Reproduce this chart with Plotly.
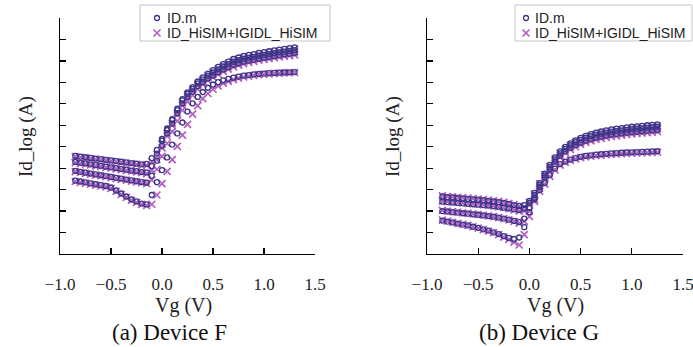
import plotly.graph_objects as go

# ---------------- data (log10 of Id, A) ----------------
VG_F = [-0.85, -0.80, -0.75, -0.70, -0.65, -0.60, -0.55, -0.50, -0.45, -0.40, -0.35,
        -0.30, -0.25, -0.20, -0.15, -0.10, -0.05, 0.00, 0.05, 0.10, 0.15, 0.20, 0.25,
        0.30, 0.35, 0.40, 0.45, 0.50, 0.55, 0.60, 0.65, 0.70, 0.75, 0.80, 0.85, 0.90,
        0.95, 1.00, 1.05, 1.10, 1.15, 1.20, 1.25, 1.30]

F_MEAS_1 = [-10.58, -10.62, -10.66, -10.71, -10.75, -10.79, -10.83, -10.90, -11.04, -11.18, -11.32,
            -11.46, -11.55, -11.65, -11.69, -11.25, -10.65, -10.09, -9.50, -8.90, -8.38, -7.87, -7.36,
            -6.98, -6.68, -6.45, -6.25, -6.10, -5.99, -5.91, -5.84, -5.78, -5.73, -5.69, -5.66, -5.63,
            -5.61, -5.59, -5.57, -5.56, -5.55, -5.54, -5.53, -5.52]
F_MEAS_2 = [-10.13, -10.17, -10.21, -10.25, -10.29, -10.33, -10.37, -10.41, -10.45, -10.49, -10.53,
            -10.57, -10.61, -10.65, -10.68, -10.35, -9.65, -8.95, -8.38, -7.92, -7.44, -6.98, -6.67,
            -6.43, -6.18, -5.99, -5.82, -5.68, -5.53, -5.40, -5.29, -5.18, -5.11, -5.04, -4.99, -4.95,
            -4.90, -4.86, -4.82, -4.78, -4.74, -4.70, -4.67, -4.63]
F_MEAS_3 = [-9.71, -9.75, -9.78, -9.82, -9.86, -9.89, -9.93, -9.96, -10.00, -10.04, -10.07,
            -10.11, -10.14, -10.18, -10.20, -9.90, -9.32, -8.72, -8.22, -7.76, -7.29, -6.84, -6.54,
            -6.30, -6.05, -5.86, -5.69, -5.54, -5.39, -5.26, -5.15, -5.04, -4.97, -4.90, -4.85, -4.81,
            -4.76, -4.72, -4.68, -4.64, -4.60, -4.57, -4.53, -4.50]
F_MEAS_4 = [-9.43, -9.46, -9.49, -9.52, -9.55, -9.58, -9.61, -9.64, -9.67, -9.70, -9.73,
            -9.76, -9.79, -9.82, -9.80, -9.53, -9.15, -8.64, -8.15, -7.71, -7.22, -6.78, -6.47,
            -6.22, -5.96, -5.77, -5.59, -5.43, -5.28, -5.15, -5.03, -4.91, -4.84, -4.77, -4.72, -4.68,
            -4.63, -4.59, -4.55, -4.51, -4.47, -4.44, -4.40, -4.37]

F_SIM_1 = [-10.62, -10.66, -10.70, -10.75, -10.79, -10.83, -10.87, -10.94, -11.08, -11.22, -11.36,
           -11.50, -11.59, -11.69, -11.74, -11.68, -11.25, -10.72, -10.15, -9.60, -8.98, -8.46, -7.96,
           -7.48, -7.08, -6.76, -6.52, -6.32, -6.16, -6.04, -5.95, -5.87, -5.80, -5.75, -5.71, -5.67,
           -5.64, -5.62, -5.60, -5.58, -5.57, -5.56, -5.55, -5.54]
F_SIM_2 = [-10.16, -10.20, -10.24, -10.28, -10.32, -10.36, -10.40, -10.44, -10.48, -10.52, -10.56,
           -10.60, -10.64, -10.68, -10.72, -10.55, -10.05, -9.45, -8.85, -8.30, -7.80, -7.30, -6.90,
           -6.60, -6.32, -6.09, -5.91, -5.76, -5.62, -5.49, -5.38, -5.28, -5.20, -5.13, -5.07, -5.02,
           -4.97, -4.93, -4.89, -4.85, -4.81, -4.78, -4.75, -4.72]
F_SIM_3 = [-9.74, -9.78, -9.81, -9.85, -9.89, -9.92, -9.96, -9.99, -10.03, -10.07, -10.10,
           -10.14, -10.17, -10.21, -10.25, -10.10, -9.60, -9.05, -8.50, -8.00, -7.52, -7.07, -6.70,
           -6.43, -6.17, -5.95, -5.77, -5.62, -5.48, -5.35, -5.24, -5.13, -5.06, -4.99, -4.93, -4.88,
           -4.84, -4.80, -4.76, -4.72, -4.68, -4.65, -4.61, -4.58]
F_SIM_4 = [-9.46, -9.49, -9.52, -9.55, -9.58, -9.61, -9.64, -9.67, -9.70, -9.73, -9.76,
           -9.79, -9.82, -9.85, -9.86, -9.70, -9.35, -8.88, -8.38, -7.90, -7.42, -6.95, -6.58,
           -6.33, -6.09, -5.87, -5.68, -5.52, -5.37, -5.24, -5.12, -5.01, -4.93, -4.86, -4.81, -4.76,
           -4.71, -4.67, -4.63, -4.59, -4.55, -4.52, -4.48, -4.45]

VG_G = [-0.85, -0.80, -0.75, -0.70, -0.65, -0.60, -0.55, -0.50, -0.45, -0.40, -0.35,
        -0.30, -0.25, -0.20, -0.15, -0.10, -0.05, 0.00, 0.05, 0.10, 0.15, 0.20, 0.25,
        0.30, 0.35, 0.40, 0.45, 0.50, 0.55, 0.60, 0.65, 0.70, 0.75, 0.80, 0.85, 0.90,
        0.95, 1.00, 1.05, 1.10, 1.15, 1.20, 1.25]

G_MEAS_1 = [-12.44, -12.49, -12.53, -12.58, -12.63, -12.67, -12.73, -12.78, -12.85, -12.91, -12.99,
            -13.07, -13.17, -13.25, -13.30, -13.23, -12.75, -12.05, -11.45, -11.02, -10.69, -10.32, -10.02,
            -9.81, -9.69, -9.60, -9.53, -9.47, -9.43, -9.40, -9.37, -9.35, -9.33, -9.31, -9.30, -9.28,
            -9.27, -9.26, -9.25, -9.24, -9.23, -9.22, -9.21]
G_MEAS_2 = [-12.00, -12.02, -12.05, -12.07, -12.10, -12.12, -12.15, -12.17, -12.20, -12.23, -12.26,
            -12.30, -12.35, -12.40, -12.46, -12.51, -12.35, -11.85, -11.38, -10.88, -10.44, -10.04, -9.69,
            -9.42, -9.21, -9.05, -8.92, -8.81, -8.72, -8.65, -8.58, -8.53, -8.48, -8.44, -8.41, -8.38,
            -8.35, -8.32, -8.30, -8.28, -8.26, -8.24, -8.22]
G_MEAS_3 = [-11.56, -11.58, -11.60, -11.62, -11.64, -11.66, -11.68, -11.70, -11.72, -11.74, -11.77,
            -11.80, -11.84, -11.88, -11.92, -11.95, -11.88, -11.62, -11.25, -10.78, -10.34, -9.94, -9.59,
            -9.31, -9.10, -8.93, -8.79, -8.68, -8.59, -8.51, -8.44, -8.39, -8.34, -8.30, -8.27, -8.24,
            -8.21, -8.18, -8.16, -8.14, -8.11, -8.09, -8.07]
G_MEAS_4 = [-11.32, -11.35, -11.36, -11.39, -11.41, -11.43, -11.45, -11.47, -11.49, -11.52, -11.55,
            -11.58, -11.62, -11.66, -11.72, -11.76, -11.72, -11.53, -11.15, -10.70, -10.25, -9.85, -9.50,
            -9.22, -9.01, -8.84, -8.70, -8.59, -8.49, -8.41, -8.34, -8.29, -8.24, -8.19, -8.16, -8.13,
            -8.10, -8.07, -8.05, -8.03, -8.00, -7.98, -7.96]

G_SIM_1 = [-12.42, -12.47, -12.52, -12.57, -12.62, -12.67, -12.73, -12.79, -12.86, -12.93, -13.01,
           -13.10, -13.21, -13.32, -13.45, -13.58, -13.10, -12.25, -11.55, -11.08, -10.74, -10.38, -10.08,
           -9.86, -9.73, -9.64, -9.57, -9.51, -9.47, -9.44, -9.41, -9.39, -9.37, -9.35, -9.33, -9.32,
           -9.31, -9.30, -9.29, -9.28, -9.27, -9.26, -9.25]
G_SIM_2 = [-11.97, -12.00, -12.03, -12.05, -12.08, -12.10, -12.13, -12.16, -12.19, -12.22, -12.26,
           -12.30, -12.35, -12.41, -12.48, -12.56, -12.48, -12.00, -11.45, -10.93, -10.49, -10.10, -9.77,
           -9.50, -9.29, -9.13, -9.00, -8.89, -8.80, -8.73, -8.66, -8.61, -8.56, -8.52, -8.49, -8.46,
           -8.43, -8.40, -8.38, -8.36, -8.34, -8.32, -8.30]
G_SIM_3 = [-11.54, -11.56, -11.58, -11.60, -11.62, -11.64, -11.66, -11.68, -11.70, -11.73, -11.76,
           -11.80, -11.84, -11.89, -11.95, -12.00, -11.98, -11.70, -11.28, -10.82, -10.40, -10.02, -9.68,
           -9.41, -9.20, -9.03, -8.89, -8.78, -8.69, -8.61, -8.54, -8.48, -8.43, -8.39, -8.36, -8.33,
           -8.30, -8.27, -8.25, -8.23, -8.20, -8.18, -8.16]
G_SIM_4 = [-11.29, -11.32, -11.34, -11.36, -11.38, -11.40, -11.42, -11.44, -11.47, -11.49, -11.52,
           -11.55, -11.59, -11.64, -11.70, -11.78, -11.80, -11.60, -11.20, -10.72, -10.30, -9.92, -9.58,
           -9.31, -9.11, -8.94, -8.80, -8.69, -8.59, -8.50, -8.43, -8.37, -8.32, -8.28, -8.24, -8.21,
           -8.18, -8.15, -8.12, -8.10, -8.08, -8.06, -8.04]

X_TICKS = [-1.0, -0.5, 0.0, 0.5, 1.0, 1.5]
LEGEND_LABELS = ["ID.m", "ID_HiSIM+IGIDL_HiSIM"]
X_TITLE = "Vg (V)"
Y_TITLE = "Id_log (A)"
CAPTIONS = ["(a) Device F", "(b) Device G"]

# ---------------- styling ----------------
W, H = 693, 347
CIRC_COLOR = "#383886"
CROSS_COLOR = "#b35cc1"
SERIF = "Liberation Serif, Times New Roman, serif"
SANS = "Liberation Sans, Arial, sans-serif"


def px(x):
    return x / W


def py(y):
    return 1 - y / H


fig = go.Figure()

circ_marker = dict(symbol="circle-open", size=5, color=CIRC_COLOR, line=dict(width=1.3, color=CIRC_COLOR))
cross_marker = dict(symbol="x-thin-open", size=7, color=CROSS_COLOR, line=dict(width=1.7, color=CROSS_COLOR))

panels = [
    ("x", "y", VG_F, [F_MEAS_1, F_MEAS_2, F_MEAS_3, F_MEAS_4], [F_SIM_1, F_SIM_2, F_SIM_3, F_SIM_4]),
    ("x2", "y2", VG_G, [G_MEAS_1, G_MEAS_2, G_MEAS_3, G_MEAS_4], [G_SIM_1, G_SIM_2, G_SIM_3, G_SIM_4]),
]
for xa, ya, vg, meas, sims in panels:
    for s in sims:
        fig.add_trace(go.Scatter(x=vg, y=s, mode="markers", marker=cross_marker,
                                 xaxis=xa, yaxis=ya, showlegend=False, hoverinfo="skip"))
    for m in meas:
        fig.add_trace(go.Scatter(x=vg, y=m, mode="markers", marker=circ_marker,
                                 xaxis=xa, yaxis=ya, showlegend=False, hoverinfo="skip"))

# legend symbols on a pixel-coordinate overlay axis
LEG_SYM_X = [157, 526]
fig.add_trace(go.Scatter(x=LEG_SYM_X, y=[18, 18], mode="markers", xaxis="x3", yaxis="y3",
                         marker=dict(symbol="circle-open", size=5, color=CIRC_COLOR,
                                     line=dict(width=1.3, color=CIRC_COLOR)),
                         showlegend=False, hoverinfo="skip"))
fig.add_trace(go.Scatter(x=LEG_SYM_X, y=[33, 33], mode="markers", xaxis="x3", yaxis="y3",
                         marker=dict(symbol="x-thin-open", size=7, color=CROSS_COLOR,
                                     line=dict(width=1.7, color=CROSS_COLOR)),
                         showlegend=False, hoverinfo="skip"))

xdom1 = [px(60), px(315)]
xdom2 = [px(427), px(683)]
ydom = [py(254), py(18)]

xcommon = dict(range=[-1.0, 1.5], tickvals=X_TICKS, tickformat=".1f", ticks="inside", ticklen=6,
               tickwidth=1.3, tickcolor="black", showline=True, linecolor="black", linewidth=1.3,
               showgrid=False, zeroline=False, ticklabelstandoff=14, automargin=False,
               ticklabeloverflow="allow",
               tickfont=dict(family=SERIF, size=17, color="#222"))
ycommon = dict(range=[-14, -3], dtick=1, tick0=-14, ticks="inside", ticklen=6, tickwidth=1.3,
               tickcolor="black", showline=True, linecolor="black", linewidth=1.3,
               showgrid=False, zeroline=False, showticklabels=False, automargin=False)

fig.update_layout(
    width=W, height=H, margin=dict(l=0, r=0, t=0, b=0, autoexpand=False),
    paper_bgcolor="white", plot_bgcolor="rgba(0,0,0,0)",
    xaxis=dict(domain=xdom1, anchor="y", **xcommon),
    yaxis=dict(domain=ydom, anchor="x", **ycommon),
    xaxis2=dict(domain=xdom2, anchor="y2", **xcommon),
    yaxis2=dict(domain=ydom, anchor="x2", **ycommon),
    xaxis3=dict(domain=[0, 1], anchor="y3", range=[0, W], visible=False, fixedrange=True),
    yaxis3=dict(domain=[0, 1], anchor="x3", range=[H, 0], visible=False, fixedrange=True),
)

shapes = []
for x0, x1 in [(140, 330), (515, 692)]:
    shapes.append(dict(type="rect", xref="paper", yref="paper", x0=px(x0), x1=px(x1),
                       y0=py(41), y1=py(5), line=dict(color="#c4c4c4", width=1), fillcolor="rgba(0,0,0,0)",
                       layer="below"))
fig.update_layout(shapes=shapes)

ann = []
for tx in [165, 533]:
    for lbl, yy in zip(LEGEND_LABELS, [18, 33]):
        ann.append(dict(text=lbl, x=px(tx), y=py(yy), xref="paper", yref="paper", xanchor="left",
                        yanchor="middle", showarrow=False, font=dict(family=SANS, size=14, color="#222")))
for cx, cap, tcx, ycx in [(183, CAPTIONS[0], 169, 26), (555, CAPTIONS[1], 539, 393)]:
    ann.append(dict(text=X_TITLE, x=px(cx), y=py(305), xref="paper", yref="paper", showarrow=False,
                    xanchor="center", yanchor="middle", font=dict(family=SERIF, size=20, color="#222")))
    ann.append(dict(text=cap, x=px(tcx), y=py(332), xref="paper", yref="paper", showarrow=False,
                    xanchor="center", yanchor="middle", font=dict(family=SERIF, size=23, color="#111")))
    ann.append(dict(text=Y_TITLE, x=px(ycx), y=py(137), xref="paper", yref="paper", showarrow=False,
                    textangle=-90, xanchor="center", yanchor="middle",
                    font=dict(family=SERIF, size=19, color="#222")))
fig.update_layout(annotations=ann)

fig.write_html("out.html", config={"displayModeBar": False, "staticPlot": True},
               post_script="document.body.style.margin='0';document.body.style.padding='0';"
                           "document.body.style.overflow='hidden';")
